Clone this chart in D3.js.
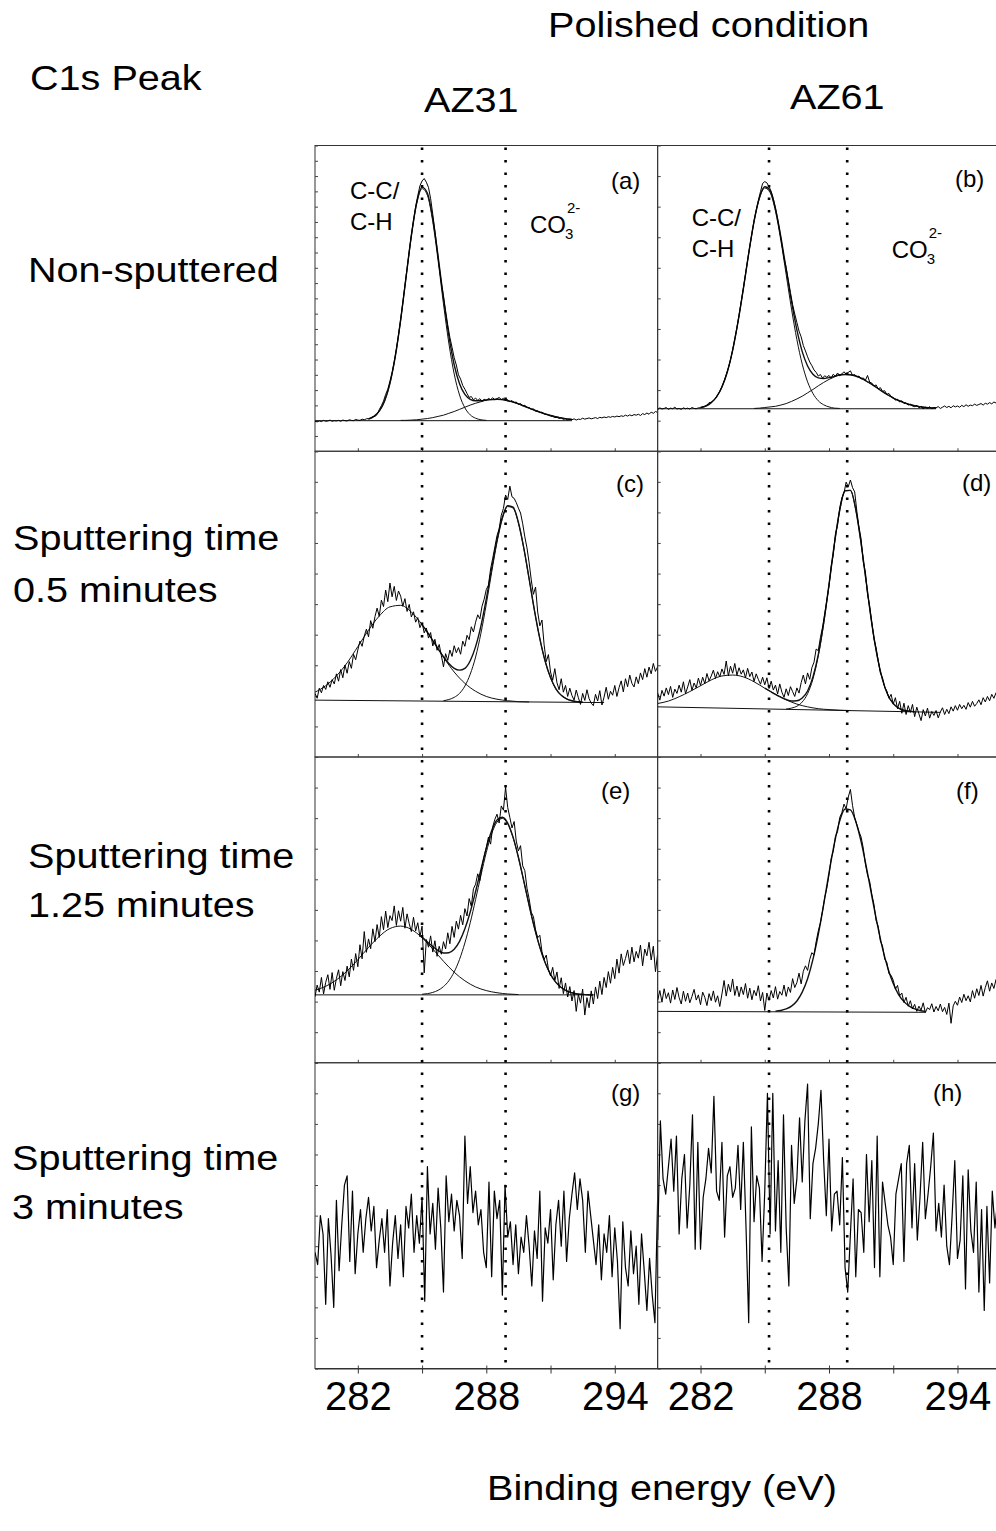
<!DOCTYPE html>
<html>
<head>
<meta charset="utf-8">
<script src="https://cdn.jsdelivr.net/npm/d3@7"></script>
<style>
  html, body { margin: 0; padding: 0; background: #fff; }
  svg { display: block; font-family: "Liberation Sans", Arial, sans-serif; }
</style>
</head>
<body>
<svg id="chart" width="996" height="1531"></svg>
<script>
const ENERGY_DOMAIN = [280, 296];
const majorTicks = [282, 288, 294];
const minorTicks = [285, 291];
const columnLabels = ['AZ31', 'AZ61'];
const rowLabels = [
  ['Non-sputtered'],
  ['Sputtering time', '0.5 minutes'],
  ['Sputtering time', '1.25 minutes'],
  ['Sputtering time', '3 minutes']
];
const panelLetters = ['(a)', '(b)', '(c)', '(d)', '(e)', '(f)', '(g)', '(h)'];
const bondLabels = ['C-C/', 'C-H'];
const carbonateLabel = ['CO', '3', '2-'];
const az31Markers = [285.0, 288.9];
const az61Markers = [285.2, 288.85];

// intensities in arbitrary units, 0 = panel floor, 100 = panel ceiling
const aSpectrum = [
  9.8, 9.6, 9.9, 9.7, 10.1, 9.8, 9.9, 10.2, 9.8, 10.0,
  9.9, 10.1, 9.8, 10.2, 10.0, 9.9, 10.3, 10.1, 10.0, 10.4,
  10.2, 10.1, 10.5, 10.3, 10.6, 10.7, 10.9, 11.3, 11.4, 12.0,
  13.6, 14.9, 16.4, 18.6, 20.3, 22.9, 25.8, 29.4, 33.5, 38.2,
  43.2, 48.6, 54.3, 59.8, 65.4, 70.8, 75.6, 80.0, 83.6, 86.8,
  88.4, 89.2, 88.0, 86.3, 82.6, 77.5, 72.1, 66.3, 60.4, 55.0,
  50.8, 45.9, 41.3, 37.2, 34.0, 30.6, 28.2, 25.0, 23.6, 21.5,
  20.3, 18.9, 17.6, 17.9, 16.8, 17.4, 16.6, 17.2, 16.4, 17.0,
  16.6, 17.3, 16.9, 17.5, 16.8, 17.2, 17.6, 16.9, 17.3, 16.7,
  16.9, 16.2, 16.6, 15.9, 16.1, 15.3, 15.6, 14.9, 15.0, 14.4,
  14.3, 13.7, 13.9, 13.1, 13.2, 12.6, 12.8, 12.2, 12.0, 11.8,
  11.5, 11.4, 11.0, 11.1, 10.7, 10.9, 10.4, 10.6, 10.2, 10.5,
  10.3, 10.6, 10.2, 10.5, 10.4, 10.8, 10.5, 10.7, 10.9, 10.6,
  10.8, 11.0, 10.7, 11.1, 10.9, 11.2, 11.0, 11.3, 11.1, 11.4,
  11.2, 11.5, 11.3, 11.6, 11.4, 11.8, 11.5, 11.9, 11.6, 12.0,
  11.8, 12.1, 11.7, 12.3, 12.0, 12.5, 12.1, 12.8, 12.4, 13.0,
  12.7
];
const aBaseline = [[280, 10], [292, 10]];
const aPeakCC = [10.5, 11.4, 13.1, 16.4, 22.2, 31.0, 42.8, 56.7, 70.3, 81.0, 85.9, 83.7,
  75.1, 62.3, 48.2, 35.4, 25.3, 18.4, 14.2, 11.9, 10.8, 10.3, 10.1];
const aPeakCO3 = [10.1, 10.1, 10.2, 10.3, 10.5, 10.7, 11.0, 11.4, 11.8, 12.4, 13.0, 13.7,
  14.4, 15.1, 15.7, 16.2, 16.7, 16.9, 17.0, 16.9, 16.5, 16.1, 15.5, 14.8, 14.1, 13.4,
  12.8, 12.2, 11.7, 11.3, 10.9, 10.6, 10.4];
const aEnvelope = [10.5, 11.4, 13.1, 16.4, 22.2, 31.0, 42.9, 56.8, 70.5, 81.3, 86.4, 84.4,
  76.1, 63.7, 50.0, 37.8, 28.3, 22.1, 18.6, 17.0, 16.5, 16.5, 16.8, 16.9, 17.0, 16.9,
  16.5, 16.1, 15.5, 14.8, 14.1, 13.4, 12.8, 12.2, 11.7, 11.3, 10.9, 10.6, 10.4];

const bSpectrum = [
  13.6, 14.2, 13.8, 14.0, 14.3, 13.7, 14.1, 13.9, 14.4, 13.8,
  14.0, 13.7, 14.2, 13.9, 14.1, 13.8, 14.3, 14.0, 13.9, 14.2,
  14.2, 14.5, 14.6, 15.1, 15.9, 16.0, 16.5, 17.3, 18.5, 19.6,
  21.2, 23.0, 25.1, 27.3, 30.0, 33.2, 36.8, 40.5, 44.6, 49.0,
  53.4, 58.0, 62.6, 67.1, 71.2, 75.5, 78.9, 82.0, 84.9, 87.6,
  88.2, 87.8, 86.5, 85.0, 82.6, 79.6, 76.0, 72.0, 67.6, 63.2,
  60.1, 56.0, 51.9, 48.0, 44.9, 42.1, 39.3, 37.4, 34.6, 32.8,
  30.9, 29.2, 28.0, 26.6, 25.8, 24.6, 25.1, 23.9, 24.7, 24.2,
  24.8, 23.9, 25.2, 24.5, 25.6, 24.7, 25.3, 26.0, 25.2, 25.8,
  26.3, 24.8, 25.1, 24.3, 24.6, 23.6, 24.0, 23.2, 24.8, 22.6,
  22.3, 21.3, 21.7, 20.4, 20.8, 19.6, 19.8, 18.6, 18.9, 17.9,
  17.6, 16.7, 17.0, 16.1, 16.5, 15.6, 15.8, 15.1, 15.4, 14.8,
  14.6, 15.0, 14.2, 14.7, 13.8, 14.5, 14.0, 14.6, 13.9, 14.3,
  14.2, 14.6, 14.0, 14.4, 14.8, 14.3, 14.7, 14.2, 14.9, 14.5,
  14.8, 14.4, 15.0, 14.6, 15.2, 14.7, 15.1, 14.9, 15.4, 15.0,
  15.3, 15.6, 15.1, 15.7, 15.4, 15.9, 15.5, 16.1, 15.8, 16.3,
  16.0
];
const bBaseline = [[280, 13.9], [293, 13.9]];
const bPeakCC = [14.3, 14.8, 15.9, 17.8, 21.0, 25.9, 33.0, 42.3, 53.1, 64.6, 75.1, 82.7,
  86.1, 84.6, 78.5, 69.0, 57.8, 46.5, 36.5, 28.5, 22.7, 18.9, 16.5, 15.2, 14.5, 14.1, 14.0];
const bPeakCO3 = [14.0, 14.1, 14.3, 14.5, 14.7, 15.1, 15.6, 16.3, 17.1, 18.0, 19.1, 20.2,
  21.4, 22.5, 23.5, 24.3, 24.9, 25.1, 25.0, 24.6, 23.9, 22.9, 21.9, 20.7, 19.5, 18.4,
  17.4, 16.6, 15.9, 15.3, 14.9, 14.6, 14.3, 14.2, 14.1];
const bEnvelope = [14.3, 14.8, 15.9, 17.8, 21.0, 25.9, 33.0, 42.3, 53.1, 64.7, 75.2, 82.9,
  86.5, 85.2, 79.3, 70.2, 59.5, 48.9, 39.7, 32.6, 27.9, 25.2, 24.0, 23.8, 24.1, 24.5,
  25.0, 25.1, 25.0, 24.6, 23.9, 22.9, 21.9, 20.7, 19.5, 18.4, 17.4, 16.6, 15.9, 15.3,
  14.9, 14.6, 14.3, 14.2, 14.1];

const cSpectrum = [
  20.8, 19.2, 22.5, 21.0, 23.4, 22.1, 24.6, 22.8, 25.3, 23.9,
  27.2, 24.8, 28.6, 25.9, 30.1, 27.4, 31.2, 29.0, 33.6, 31.8,
  35.0, 37.9, 36.2, 39.5, 41.8, 39.3, 44.6, 42.1, 45.9, 48.7,
  46.0, 51.3, 49.2, 54.6, 50.8, 56.9, 52.4, 55.8, 51.2, 54.3,
  52.6, 49.3, 51.8, 47.6, 49.9, 45.8, 47.5, 44.1, 45.6, 42.3,
  43.9, 40.6, 42.2, 38.9, 40.7, 36.3, 38.5, 34.9, 36.8, 33.2,
  29.5, 33.8, 31.6, 35.0, 32.9, 36.4, 34.1, 35.8, 33.6, 37.9,
  36.2, 39.8, 38.4, 42.6, 40.9, 44.1, 46.5, 45.2, 49.3, 51.6,
  54.8, 56.2, 61.5, 65.0, 68.7, 72.4, 74.6, 79.1, 81.3, 85.7,
  84.2, 88.6, 85.1, 84.6, 83.2, 81.4, 79.8, 76.3, 72.0, 68.4,
  63.5, 57.9, 53.2, 55.6, 47.4, 42.9, 44.8, 36.7, 31.2, 33.5,
  27.8, 25.1, 28.9, 24.3, 22.0, 25.6, 21.2, 23.4, 19.8, 22.5,
  20.1, 18.6, 21.9, 19.4, 17.2, 20.8, 18.5, 22.0, 19.1, 17.6,
  16.8, 20.5, 18.3, 21.7, 17.0, 19.6, 22.8, 18.9, 21.5, 20.2,
  23.4, 19.8, 22.7, 24.9, 21.3, 25.6, 23.0, 26.8, 24.1, 22.9,
  26.2, 24.0, 27.5, 25.3, 28.9, 26.1, 29.4, 27.2, 30.6, 28.0,
  29.5
];
const cBaseline = [[280, 18.6], [293.5, 17.8]];
const cPeakCC = [21.2, 23.3, 26.5, 30.8, 36.1, 41.5, 46.1, 49.1, 49.6, 47.4, 43.3, 38.1,
  32.6, 27.8, 24.1, 21.5, 19.8, 18.9, 18.4, 18.1, 18.0];
const cPeakCO3 = [18.4, 18.8, 19.5, 20.8, 23.2, 27.1, 32.7, 40.5, 50.0, 60.4, 70.2, 77.9,
  81.9, 81.4, 76.5, 68.3, 58.2, 47.9, 38.7, 31.3, 25.9, 22.3, 20.2, 19.0, 18.4, 18.1, 17.95];
const cEnvelope = [43.3, 40.8, 38.1, 35.4, 32.8, 30.6, 29.0, 28.4, 29.0, 31.5, 36.1, 42.9,
  51.7, 61.6, 71.0, 78.4, 82.2, 81.7, 76.7, 68.4, 58.3, 47.9, 38.7, 31.3, 26.0, 22.3,
  20.2, 19.0, 18.4, 18.1, 17.93];

const dSpectrum = [
  20.9, 18.6, 21.8, 19.9, 22.6, 20.4, 23.1, 19.5, 22.2, 20.8,
  23.5, 21.2, 24.6, 20.7, 22.9, 25.3, 21.8, 24.2, 22.6, 25.8,
  23.4, 26.1, 24.0, 27.3, 24.9, 26.5, 28.4, 25.7, 27.9, 26.2,
  28.8, 27.0, 31.4, 26.5, 29.7, 27.4, 30.6, 26.8, 29.2, 27.1,
  28.5, 25.9, 29.0, 26.3, 27.8, 24.7, 27.2, 25.4, 23.8, 26.1,
  23.6, 25.9, 22.4, 24.8, 21.9, 23.5, 20.6, 23.9, 21.2, 19.5,
  22.3, 20.1, 23.0, 21.4, 19.8, 22.6, 20.9, 24.3, 26.8, 23.9,
  27.5, 25.4, 29.2, 31.0, 35.3, 34.8, 39.1, 42.5, 46.9, 51.3,
  56.0, 62.4, 66.1, 73.0, 75.8, 81.5, 84.8, 86.3, 89.9, 88.4,
  90.6, 88.1, 86.7, 80.4, 75.2, 71.3, 63.8, 60.5, 53.2, 49.4,
  44.1, 38.6, 35.7, 31.5, 27.4, 25.9, 22.8, 21.6, 19.2, 20.5,
  17.3, 19.4, 15.8, 18.2, 14.3, 17.6, 13.9, 16.8, 14.6, 17.2,
  13.2, 16.3, 14.1, 11.9, 15.5, 13.4, 16.0, 12.7, 14.9, 13.6,
  15.2, 12.8, 14.7, 16.1, 13.9, 15.6, 14.2, 16.4, 15.0, 16.8,
  15.3, 17.2, 15.8, 16.9, 15.6, 17.8, 16.3, 18.2, 16.6, 17.5,
  18.7, 17.1, 19.4, 18.0, 19.8, 18.4, 20.5, 19.2, 21.0, 19.6,
  20.8
];
const dBaseline = [[280, 16.4], [293.2, 14.6]];
const dPeakCC = [17.5, 18.3, 19.7, 21.4, 23.3, 25.2, 26.5, 26.8, 26.2, 24.6, 22.5, 20.5,
  18.7, 17.3, 16.4, 15.8, 15.5, 15.3, 15.2];
const dPeakCO3 = [15.7, 16.0, 16.6, 18.0, 20.7, 25.5, 33.1, 43.5, 56.2, 69.5, 80.6, 87.1,
  87.2, 80.9, 69.8, 56.6, 43.6, 33.0, 25.3, 20.3, 17.5, 16.0, 15.3, 15.0, 14.8];
const dEnvelope = [22.5, 21.5, 20.5, 19.6, 18.8, 18.3, 18.4, 19.3, 21.6, 26.2, 33.5, 43.9,
  56.4, 69.6, 80.7, 87.1, 87.2, 80.9, 69.8, 56.6, 43.6, 33.0, 25.3, 20.3, 17.5, 16.0,
  15.3, 15.0, 14.8];

const eSpectrum = [
  21.6, 25.4, 23.1, 27.9, 22.5, 26.3, 28.8, 24.0, 29.5, 23.7,
  27.6, 30.4, 25.2, 29.8, 26.9, 31.6, 28.1, 33.9, 30.2, 35.7,
  31.4, 38.6, 34.0, 42.9, 36.1, 40.5, 37.3, 43.8, 39.6, 45.2,
  41.0, 47.8, 43.5, 49.6, 44.2, 48.1, 46.5, 51.3, 44.9, 49.7,
  46.3, 50.8, 44.0, 48.7, 45.5, 42.9, 47.6, 43.1, 45.8, 41.2,
  44.7, 29.4, 40.3, 37.8, 41.5, 36.2, 39.9, 34.8, 38.1, 35.5,
  39.6, 37.2, 42.5, 38.9, 44.6, 41.0, 46.3, 43.7, 48.2, 45.1,
  50.4, 48.0, 53.7, 51.2, 56.9, 58.4, 61.8, 59.6, 64.3, 67.5,
  70.4, 73.8, 71.5, 77.2, 79.6, 81.3, 78.4, 84.0, 82.6, 90.1,
  83.5, 80.2, 76.8, 78.9, 72.5, 69.3, 71.0, 64.4, 62.8, 57.1,
  53.6, 49.2, 47.8, 43.5, 40.9, 41.7, 36.3, 33.8, 35.2, 30.6,
  28.4, 31.2, 26.9, 29.7, 24.3, 27.8, 22.6, 26.1, 21.5, 24.9,
  20.2, 23.6, 16.8, 22.4, 19.5, 24.1, 15.6, 21.3, 18.0, 23.5,
  19.2, 24.8, 21.0, 26.7, 22.3, 27.9, 24.6, 29.8, 26.0, 31.2,
  27.5, 33.9, 29.3, 35.6, 31.8, 34.1, 36.9, 32.4, 37.8, 33.0,
  36.4, 34.2, 38.5, 31.7, 37.2, 35.0, 39.4, 33.6, 38.1, 29.8,
  35.5
];
const eBaseline = [[280, 22.2], [293, 22.2]];
const ePeakCC = [23.7, 25.0, 27.1, 30.0, 33.7, 37.7, 41.3, 43.9, 44.7, 43.6, 40.9, 37.2,
  33.2, 29.6, 26.8, 24.8, 23.6, 22.9, 22.5, 22.3];
const ePeakCO3 = [22.4, 22.6, 23.0, 23.7, 24.9, 26.8, 29.7, 33.8, 39.2, 45.8, 53.4, 61.3,
  68.8, 74.9, 78.7, 79.9, 78.1, 73.6, 67.1, 59.4, 51.5, 44.1, 37.8, 32.7, 28.9, 26.3,
  24.6, 23.5, 22.9, 22.5, 22.35, 22.25, 22.2];
const eEnvelope = [41.1, 39.5, 38.0, 36.7, 35.9, 36.0, 37.1, 39.7, 43.8, 49.3, 56.0, 63.2,
  70.2, 75.9, 79.4, 80.3, 78.4, 73.8, 67.2, 59.5, 51.5, 44.1, 37.8, 32.7, 28.9, 26.3,
  24.6, 23.5, 22.9, 22.5, 22.35, 22.25, 22.2];

const fSpectrum = [
  20.4, 23.6, 19.8, 24.2, 21.0, 22.9, 19.5, 23.8, 20.7, 24.6,
  21.3, 19.2, 23.4, 20.1, 22.8, 19.6, 21.7, 24.0, 20.5, 22.2,
  19.0, 23.1, 21.4, 18.7, 22.6, 20.3, 23.5, 19.8, 21.9, 18.4,
  22.5, 26.9, 21.8, 25.7, 23.2, 27.4, 22.0, 25.1, 21.6, 24.8,
  22.3, 25.9, 21.1, 24.4, 20.6, 23.7, 21.9, 25.2, 20.2, 23.0,
  17.1, 22.8, 20.4, 23.6, 21.2, 24.9, 20.8, 23.3, 22.1, 25.4,
  21.7, 24.8, 23.0, 27.5, 24.6, 26.2, 29.3, 25.8, 29.9, 31.7,
  30.2, 33.8, 36.0, 35.2, 39.6, 43.1, 45.8, 49.7, 54.0, 57.2,
  61.5, 66.8, 69.2, 74.0, 75.6, 80.2, 81.8, 84.6, 83.1, 86.9,
  89.4, 84.1, 80.2, 77.9, 75.6, 73.8, 70.2, 65.0, 61.4, 59.3,
  55.1, 51.8, 46.5, 44.6, 39.8, 38.2, 33.9, 32.8, 29.1, 28.6,
  27.0, 24.1, 25.3, 21.9, 22.8, 19.7, 21.4, 18.5, 20.3, 17.6,
  19.1, 16.8, 18.5, 17.2, 19.6, 16.4, 18.0, 17.4, 19.3, 16.6,
  18.4, 17.0, 19.2, 16.7, 18.1, 15.8, 19.5, 12.9, 18.6, 20.1,
  18.8, 21.5, 19.7, 22.4, 20.3, 21.9, 19.9, 23.6, 21.1, 24.2,
  22.0, 25.3, 21.8, 24.6, 26.8, 23.4, 26.1, 24.3, 27.2, 25.0,
  26.6
];
const fBaseline = [[280, 16.8], [292.5, 16.5]];
const fPeakCO3 = [16.9, 17.1, 17.6, 18.5, 20.2, 23.1, 27.5, 33.8, 42.0, 51.7, 62.1, 71.7,
  79.1, 83.0, 82.7, 78.9, 72.3, 63.8, 54.5, 45.5, 37.4, 30.9, 25.9, 22.3, 20.0, 18.5,
  17.6, 17.1, 16.8];

const gSpectrum = [
  38, 34, 50, 44, 21, 49, 37, 20, 55, 32, 47, 60, 63, 35, 58, 31,
  44, 52, 38, 49, 56, 45, 53, 33, 42, 49, 38, 52, 27, 41, 50, 36,
  47, 30, 53, 46, 57, 38, 50, 41,
  56, 22, 66, 44, 54, 39, 59, 46,
  25, 63, 48, 57, 45, 55, 50, 36, 76, 54, 66, 51, 58, 47, 52, 38,
  33, 61, 30, 58, 49, 55, 24, 60, 43, 48, 34, 47, 31, 43, 38, 50,
  40, 27, 45, 36, 58, 22, 46, 41, 52, 29, 47, 55, 40, 58, 35, 49,
  57, 64, 52, 62, 55, 38, 58, 50, 42, 34, 47, 29, 44, 38, 50, 30,
  46, 35, 13, 48, 33, 27, 45, 31, 40, 21, 44, 32, 19, 36, 24, 15, 55
];
const hSpectrum = [
  42, 81, 62, 57, 66, 75, 58, 76, 44, 62, 70, 46, 60, 83, 39, 74,
  39, 56, 62, 72, 64, 89, 58, 55, 74, 43, 63, 66, 56, 59, 73, 52,
  74, 46, 15, 79, 48, 63, 59, 35, 58, 90, 44, 90, 45, 68, 38, 83,
  46, 27, 73, 54, 62, 82, 61, 81, 93, 49, 67, 72, 80, 91, 68, 50,
  75, 45, 57, 58, 47, 69, 33, 25, 44, 62, 30, 52, 51, 38, 70, 48,
  68, 33, 76, 30, 61, 54, 47, 43, 34, 57, 62, 67, 35, 67, 73, 46,
  67, 42, 56, 74, 49, 57, 66, 77, 45, 54, 43, 60, 40, 34, 50, 68,
  36, 42, 63, 26, 65, 45, 38, 61, 25, 52, 19, 53, 28, 58, 46, 55, 41
];

const panels = [
  { col: 0, row: 0, spectrum: aSpectrum, step: 0.1, baseline: aBaseline, ticks: 20,
    fits: [{ from: 282.5, step: 0.25, values: aPeakCC }, { from: 284, step: 0.25, values: aPeakCO3 },
           { from: 282.5, step: 0.25, values: aEnvelope }] },
  { col: 1, row: 0, spectrum: bSpectrum, step: 0.1, baseline: bBaseline, ticks: 10,
    fits: [{ from: 282, step: 0.25, values: bPeakCC }, { from: 284.5, step: 0.25, values: bPeakCO3 },
           { from: 282, step: 0.25, values: bEnvelope }] },
  { col: 0, row: 1, spectrum: cSpectrum, step: 0.1, baseline: cBaseline, ticks: 10,
    fits: [{ from: 280, step: 0.5, values: cPeakCC }, { from: 286, step: 0.25, values: cPeakCO3 },
           { from: 285, step: 0.25, values: cEnvelope }] },
  { col: 1, row: 1, spectrum: dSpectrum, step: 0.1, baseline: dBaseline, ticks: 10,
    fits: [{ from: 280, step: 0.5, values: dPeakCC }, { from: 286, step: 0.25, values: dPeakCO3 },
           { from: 285, step: 0.25, values: dEnvelope }] },
  { col: 0, row: 2, spectrum: eSpectrum, step: 0.1, baseline: eBaseline, ticks: 10,
    fits: [{ from: 280, step: 0.5, values: ePeakCC }, { from: 285, step: 0.25, values: ePeakCO3 },
           { from: 285, step: 0.25, values: eEnvelope }] },
  { col: 1, row: 2, spectrum: fSpectrum, step: 0.1, baseline: fBaseline, ticks: 10,
    fits: [{ from: 285.5, step: 0.25, values: fPeakCO3 }] },
  { col: 0, row: 3, spectrum: gSpectrum, step: 0.125, baseline: null, ticks: 10, fits: [] },
  { col: 1, row: 3, spectrum: hSpectrum, step: 0.125, baseline: null, ticks: 10, fits: [] }
];

const W = 996, H = 1531;
const COL_X = [315, 657.7];
const PANEL_W = 342.6;
const TOP = 145.5;
const ROW_H = 305.75;
const BOTTOM = TOP + 4 * ROW_H;

const svg = d3.select('#chart');
svg.append('rect').attr('width', W).attr('height', H).attr('fill', '#fff');
const defs = svg.append('defs');

const xScales = COL_X.map(x0 => d3.scaleLinear().domain(ENERGY_DOMAIN).range([x0, x0 + PANEL_W]));
const yScales = d3.range(4).map(r =>
  d3.scaleLinear().domain([0, 100]).range([TOP + (r + 1) * ROW_H, TOP + r * ROW_H]));

function onGrid(from, step, values) {
  return values.map((v, i) => [from + i * step, v]);
}

panels.forEach((p, i) => {
  const x = xScales[p.col];
  const y = yScales[p.row];
  const x0 = COL_X[p.col];
  const y0 = TOP + p.row * ROW_H;

  defs.append('clipPath').attr('id', 'clip' + i)
    .append('rect').attr('x', x0).attr('y', y0).attr('width', PANEL_W).attr('height', ROW_H);

  const g = svg.append('g');

  g.append('rect')
    .attr('x', x0).attr('y', y0).attr('width', PANEL_W).attr('height', ROW_H)
    .attr('fill', 'none').attr('stroke', '#333').attr('stroke-width', 1);

  // small inward ticks on the left and bottom edges
  const left = g.append('g')
    .attr('transform', `translate(${x0},0)`)
    .call(d3.axisLeft(y).ticks(p.ticks).tickSize(-3).tickFormat(''));
  left.select('.domain').remove();
  left.selectAll('line').attr('stroke', '#444');

  const under = g.append('g')
    .attr('transform', `translate(0,${y0 + ROW_H})`)
    .call(d3.axisBottom(x).tickValues(majorTicks.concat(minorTicks)).tickSize(-3).tickFormat(''));
  under.select('.domain').remove();
  under.selectAll('line').attr('stroke', '#444');

  const plot = g.append('g').attr('clip-path', `url(#clip${i})`);

  if (p.baseline) {
    plot.append('path')
      .datum(p.baseline)
      .attr('d', d3.line().x(d => x(d[0])).y(d => y(d[1])))
      .attr('fill', 'none').attr('stroke', '#111').attr('stroke-width', 1);
  }

  const fitLine = d3.line().x(d => x(d[0])).y(d => y(d[1])).curve(d3.curveMonotoneX);
  p.fits.forEach((f, k) => {
    plot.append('path')
      .datum(onGrid(f.from, f.step, f.values))
      .attr('d', fitLine)
      .attr('fill', 'none')
      .attr('stroke', '#111')
      .attr('stroke-width', k === 2 || p.fits.length === 1 ? 1.4 : 1);
  });

  plot.append('path')
    .datum(onGrid(ENERGY_DOMAIN[0], p.step, p.spectrum))
    .attr('d', d3.line().x(d => x(d[0])).y(d => y(d[1])))
    .attr('fill', 'none')
    .attr('stroke', '#000')
    .attr('stroke-width', p.row === 3 ? 1.2 : 1)
    .attr('stroke-linejoin', 'round');
});

// dotted reference lines running through all four rows
[az31Markers, az61Markers].forEach((markers, c) => {
  svg.append('g').selectAll('line')
    .data(markers)
    .enter()
    .append('line')
    .attr('x1', d => xScales[c](d)).attr('x2', d => xScales[c](d))
    .attr('y1', TOP + 2).attr('y2', BOTTOM)
    .attr('stroke', '#000')
    .attr('stroke-width', 2.6)
    .attr('stroke-dasharray', '2.6 9.9');
});

// bottom energy axes
xScales.forEach(x => {
  const ax = svg.append('g')
    .attr('transform', `translate(0,${BOTTOM})`)
    .call(d3.axisBottom(x)
      .tickValues(majorTicks.concat(minorTicks))
      .tickSize(5).tickSizeOuter(0).tickPadding(8)
      .tickFormat(d => majorTicks.includes(d) ? d : ''));
  ax.attr('font-family', null).attr('font-size', null);
  ax.select('.domain').attr('stroke', '#333');
  ax.selectAll('line').attr('stroke', '#333');
  ax.selectAll('text').attr('fill', '#000').style('font-size', '40px');
});

function label(str, x, y, size, sx, anchor) {
  return svg.append('text')
    .attr('transform', `translate(${x},${y}) scale(${sx},1)`)
    .attr('text-anchor', anchor || 'start')
    .attr('fill', '#000')
    .style('font-size', size + 'px')
    .text(str);
}

const BIG = 36, STRETCH = 1.1;
label('Polished condition', 548, 37, BIG, STRETCH);
label('C1s Peak', 30, 90, BIG, STRETCH);
label(columnLabels[0], 424, 112, BIG, STRETCH);
label(columnLabels[1], 790, 109, BIG, STRETCH);
label('Binding energy (eV)', 487, 1500, BIG, STRETCH);

const rowLabelX = [28, 13, 28, 12];
const rowLabelY = [[282], [550, 601.7], [868, 917], [1170, 1219]];
rowLabels.forEach((lines, r) => {
  lines.forEach((t, k) => label(t, rowLabelX[r], rowLabelY[r][k], BIG, STRETCH));
});

const SMALL = 24;
const letterPos = [[611, 189], [955, 186.5], [616, 491.5], [962, 490.8],
  [601, 799], [956, 799], [611, 1100.5], [933, 1100.5]];
panelLetters.forEach((t, i) => label(t, letterPos[i][0], letterPos[i][1], SMALL, 1));

// peak annotations for the non-sputtered panels
const bondPos = [[[350, 199], [350, 230]], [[691.7, 226], [691.7, 257]]];
const carbPos = [[530, 233], [891.7, 258]];
[0, 1].forEach(c => {
  bondLabels.forEach((t, k) => label(t, bondPos[c][k][0], bondPos[c][k][1], SMALL, 1));
  const [cx, cy] = carbPos[c];
  label(carbonateLabel[0], cx, cy, SMALL, 1);
  label(carbonateLabel[1], cx + 35, cy + 6, 15, 1);
  label(carbonateLabel[2], cx + 37, cy - 20, 15, 1);
});
</script>
</body>
</html>
